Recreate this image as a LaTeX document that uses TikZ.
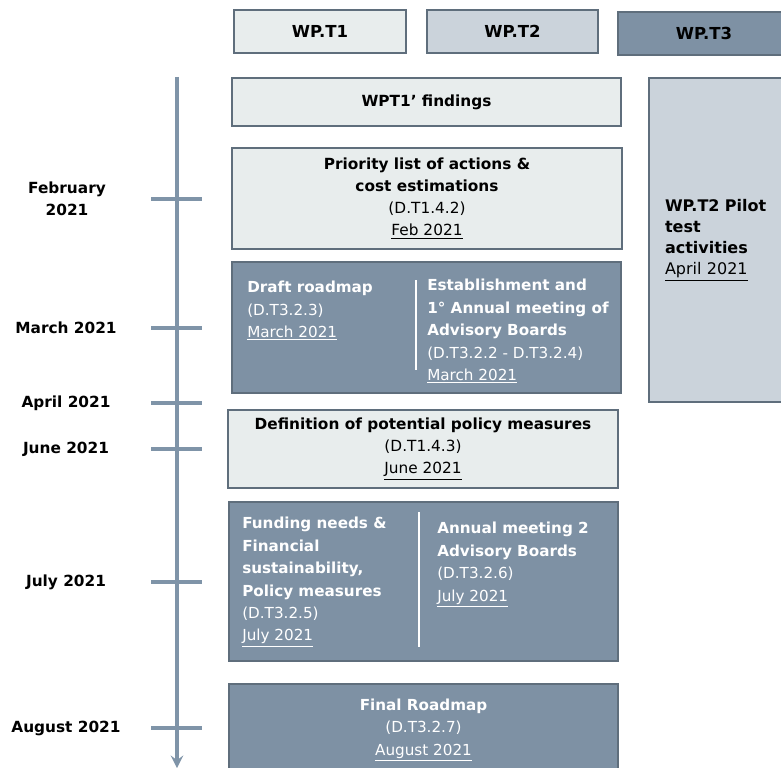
\documentclass[tikz,border=0pt]{standalone}
\usepackage{fontspec}
\setmainfont{DejaVu Sans}
\usetikzlibrary{arrows,positioning}
\definecolor{wplight}{RGB}{232,237,237}
\definecolor{wpmid}{RGB}{203,211,219}
\definecolor{wpdark}{RGB}{126,145,164}
\definecolor{wpborder}{RGB}{95,110,124}
\definecolor{wpaxis}{RGB}{127,148,168}
\tikzstyle{wpbox} = [rectangle, draw=wpborder, line width=2pt, inner sep=0pt, text centered]
\tikzstyle{lightbox} = [wpbox, fill=wplight, align=center, font=\fontsize{11.5}{16.5}\selectfont]
\tikzstyle{darkbox} = [wpbox, fill=wpdark, text=white, align=center, font=\fontsize{11.4}{16.8}\selectfont]
\tikzstyle{hdr} = [wpbox, minimum width=129pt, minimum height=32.25pt, font=\fontsize{12.4}{14}\selectfont\bfseries]
\tikzstyle{darktext} = [anchor=north west, inner sep=0pt, text=white, align=left, font=\fontsize{11.4}{16.8}\selectfont]
\tikzstyle{month} = [align=center, font=\fontsize{11.5}{16.5}\selectfont\bfseries]
\tikzstyle{axisline} = [line width=3pt, color=wpaxis, ->, >=stealth]
\tikzstyle{tick} = [line width=3pt, color=wpaxis]
\tikzstyle{divider} = [line width=2pt, color=white]

\begin{document}
\begin{tikzpicture}[x=0.75pt, y=-0.75pt]
\clip (0,0) rectangle (781,767);

% Work package headers
\node (hdrT1) [hdr, fill=wplight] at (320,31.5) {WP.T1};
\node (hdrT2) [hdr, fill=wpmid, minimum width=128.25pt] at (512.5,31.5) {WP.T2};
\node (hdrT3) [hdr, fill=wpdark] at (704,33.5) {WP.T3};

% Timeline
\coordinate (axtop) at (177,77);
\coordinate (axbot) at (177,768);
\draw[axisline] (axtop) -- (axbot);
\foreach \y in {199,328,403,449,582,728}
  \draw[tick] (151,\y) -- (202,\y);

\node (mFeb) [month] at (67,199) {February\\2021};
\node (mMar) [month] at (66,328) {March 2021};
\node (mApr) [month] at (66,403) {April 2021};
\node (mJun) [month] at (66,449) {June 2021};
\node (mJul) [month] at (66,582) {July 2021};
\node (mAug) [month] at (66,728) {August 2021};

% WP.T1 boxes
\node (findings) [lightbox, minimum width=291.75pt, minimum height=36pt] at (426.5,102) {\textbf{WPT1’ findings}};
\node (priority) [lightbox, minimum width=292.5pt, minimum height=75.75pt] at (427,198.5)
  {\textbf{Priority list of actions \&}\\\textbf{cost estimations}\\(D.T1.4.2)\\\underline{Feb 2021}};
\node (policy) [lightbox, minimum width=292.5pt, minimum height=58.5pt] at (423,449)
  {\textbf{Definition of potential policy measures}\\(D.T1.4.3)\\\underline{June 2021}};

% WP.T2 pilot
\node (pilot) [wpbox, fill=wpmid, minimum width=120pt, minimum height=243pt, inner xsep=12pt,
  text width=96pt, align=left, font=\fontsize{12}{15.75}\selectfont] at (729,240)
  {\textbf{WP.T2 Pilot}\\\textbf{test}\\\textbf{activities}\\\underline{April 2021}};

% WP.T3 boxes
\node (draft) [darkbox, minimum width=291.75pt, minimum height=98.25pt] at (426.5,327.5) {};
\node (drafttxt) [darktext] at (247,281) {\textbf{Draft roadmap}\\(D.T3.2.3)\\\underline{March 2021}};
\node (boardtxt) [darktext] at (427,279)
  {\textbf{Establishment and}\\\textbf{1° Annual meeting of}\\\textbf{Advisory Boards}\\(D.T3.2.2 - D.T3.2.4)\\\underline{March 2021}};
\draw[divider] (416,280) -- (416,370);

\node (funding) [darkbox, minimum width=291.75pt, minimum height=119.25pt] at (423.5,581.5) {};
\node (fundtxt) [darktext] at (242,517)
  {\textbf{Funding needs \&}\\\textbf{Financial}\\\textbf{sustainability,}\\\textbf{Policy measures}\\(D.T3.2.5)\\\underline{July 2021}};
\node (meet2txt) [darktext] at (437,522)
  {\textbf{Annual meeting 2}\\\textbf{Advisory Boards}\\(D.T3.2.6)\\\underline{July 2021}};
\draw[divider] (419,512) -- (419,647);

\node (final) [darkbox, minimum width=291.75pt, minimum height=69pt] at (423.5,730)
  {\textbf{Final Roadmap}\\(D.T3.2.7)\\\underline{August 2021}};
\end{tikzpicture}
\end{document}
